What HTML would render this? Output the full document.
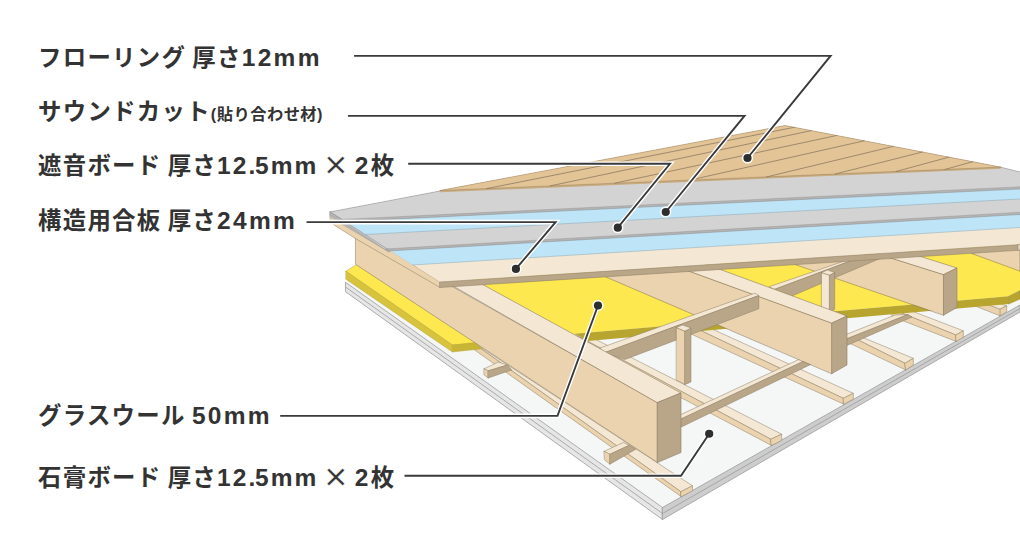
<!DOCTYPE html>
<html lang="ja">
<head>
<meta charset="utf-8">
<title>床構造</title>
<style>
html,body{margin:0;padding:0;background:#fff;}
body{width:1020px;height:540px;overflow:hidden;position:relative;font-family:"Liberation Sans","Noto Sans CJK JP",sans-serif;}
svg{position:absolute;left:0;top:0;display:block;}
.lbl{position:absolute;left:38px;margin:0;white-space:nowrap;color:#333;font-weight:bold;font-size:23.4px;line-height:30px;letter-spacing:1.3px;word-spacing:-1.6px;}
.lbl small{font-size:16.3px;letter-spacing:0.45px;}
.lbl i{font-style:normal;font-weight:normal;font-size:39.5px;line-height:0;position:relative;top:3.9px;letter-spacing:0;margin:0 1.2px 0 -0.4px;-webkit-text-stroke:0.4px #fff;}
.lbl b.d{letter-spacing:2.1px;}
.lbl u{text-decoration:none;letter-spacing:-0.4px;}
.lbl b{font-weight:bold;font-size:24.5px;letter-spacing:2.3px;}
</style>
</head>
<body>
<svg width="1020" height="540" viewBox="0 0 1020 540">
<g stroke-linejoin="round" stroke-linecap="round">
<polygon points="345.8,282.5 662.5,507.5 1020.0,305.0 1020.0,240.0 400.0,240.0" fill="#f5f7f7"/>
<polygon points="345.8,282.5 662.5,507.5 662.5,519.5 345.8,291.9" fill="#e6e6e6" stroke="#9c9c9c" stroke-width="0.8"/>
<polygon points="662.5,507.5 1020.0,305.0 1020.0,312.0 662.5,519.5" fill="#cdcdcd" stroke="#9c9c9c" stroke-width="0.8"/>
<polyline points="345.8,287.2 662.5,513.5 1020.0,308.5" fill="none" stroke="#9c9c9c" stroke-width="0.8"/>
<polygon points="470.0,340.3 692.5,485.8 680.8,491.7 470.0,340.8" fill="#f4e8d5" stroke="#8d7c63" stroke-width="0.5"/>
<polygon points="470.0,340.8 680.8,491.7 681.3,496.7 470.0,346.7" fill="#ead3ae" stroke="#8d7c63" stroke-width="0.5"/>
<polygon points="680.8,491.7 692.5,485.8 692.5,490.8 681.3,496.7" fill="#ead3ae" stroke="#8d7c63" stroke-width="0.5"/>
<polygon points="580.0,331.4 781.7,434.2 770.8,439.2 575.0,334.5" fill="#f4e8d5" stroke="#8d7c63" stroke-width="0.5"/>
<polygon points="575.0,334.5 770.8,439.2 771.5,445.5 571.0,339.5" fill="#ead3ae" stroke="#8d7c63" stroke-width="0.5"/>
<polygon points="770.8,439.2 781.7,434.2 781.7,440.5 771.5,445.5" fill="#ead3ae" stroke="#8d7c63" stroke-width="0.5"/>
<polygon points="690.0,319.0 853.3,393.3 843.3,398.3 680.0,320.7" fill="#f4e8d5" stroke="#8d7c63" stroke-width="0.5"/>
<polygon points="680.0,320.7 843.3,398.3 843.7,404.2 672.0,325.3" fill="#ead3ae" stroke="#8d7c63" stroke-width="0.5"/>
<polygon points="843.3,398.3 853.3,393.3 853.3,399.2 843.7,404.2" fill="#ead3ae" stroke="#8d7c63" stroke-width="0.5"/>
<polygon points="856.7,335.0 913.3,358.3 905.0,363.3 848.0,335.0" fill="#f4e8d5" stroke="#8d7c63" stroke-width="0.5"/>
<polygon points="848.0,335.0 905.0,363.3 905.8,370.0 847.0,342.0" fill="#ead3ae" stroke="#8d7c63" stroke-width="0.5"/>
<polygon points="905.0,363.3 913.3,358.3 913.3,365.0 905.8,370.0" fill="#ead3ae" stroke="#8d7c63" stroke-width="0.5"/>
<polygon points="900.0,306.5 963.3,330.8 955.8,335.0 893.0,309.5" fill="#f4e8d5" stroke="#8d7c63" stroke-width="0.5"/>
<polygon points="893.0,309.5 955.8,335.0 956.3,341.5 892.0,316.5" fill="#ead3ae" stroke="#8d7c63" stroke-width="0.5"/>
<polygon points="955.8,335.0 963.3,330.8 963.3,337.3 956.3,341.5" fill="#ead3ae" stroke="#8d7c63" stroke-width="0.5"/>
<polygon points="975.0,300.0 990.0,300.0 1006.7,305.8 1000.0,309.2" fill="#f4e8d5" stroke="#8d7c63" stroke-width="0.5"/>
<polygon points="1000.0,309.2 1006.7,305.8 1006.7,311.7 1000.0,315.8" fill="#ead3ae" stroke="#8d7c63" stroke-width="0.5"/>
<polygon points="975.0,300.0 1000.0,309.2 1000.0,315.8 975.0,306.0" fill="#ead3ae" stroke="#8d7c63" stroke-width="0.5"/>
<polygon points="484.2,368.7 498.3,362.0 507.5,365.0 488.3,370.8" fill="#f4e8d5" stroke="#8d7c63" stroke-width="0.5"/>
<polygon points="484.2,368.7 488.3,370.8 488.3,378.0 484.2,375.0" fill="#ead3ae" stroke="#8d7c63" stroke-width="0.5"/>
<polygon points="488.3,370.8 507.5,365.0 511.7,370.0 488.3,378.0" fill="#b9a688" stroke="#8d7c63" stroke-width="0.5"/>
<polygon points="604.2,451.3 623.3,442.5 629.2,445.3 610.0,454.2" fill="#f4e8d5" stroke="#8d7c63" stroke-width="0.5"/>
<polygon points="604.2,451.3 610.0,454.2 610.0,464.2 604.7,460.0" fill="#ead3ae" stroke="#8d7c63" stroke-width="0.5"/>
<polygon points="610.0,454.2 629.2,445.3 635.8,449.2 610.0,464.2" fill="#b9a688" stroke="#8d7c63" stroke-width="0.5"/>
<polygon points="670.0,419.6 815.0,351.9 815.0,355.9 670.0,424.2" fill="#f4e8d5" stroke="#8d7c63" stroke-width="0.5"/>
<polygon points="670.0,424.2 815.0,355.9 815.0,362.4 670.0,432.5" fill="#b9a688" stroke="#8d7c63" stroke-width="0.5"/>
<polygon points="840.0,337.0 895.0,315.0 908.0,314.5 840.0,341.5" fill="#f4e8d5" stroke="#8d7c63" stroke-width="0.5"/>
<polygon points="840.0,341.5 908.0,314.5 912.0,317.0 840.0,348.5" fill="#b9a688" stroke="#8d7c63" stroke-width="0.5"/>
<polygon points="346.0,271.2 357.5,264.0 480.0,343.0 452.5,345.0" fill="#fde850" stroke="#b7a52f" stroke-width="0.5"/>
<polygon points="346.0,271.2 452.5,345.0 452.5,352.0 346.0,279.3" fill="#d8c33c" stroke="#b7a52f" stroke-width="0.5"/>
<polygon points="452.5,345.0 475.0,342.5 482.5,348.8 452.5,352.0" fill="#c9b535" stroke="#b7a52f" stroke-width="0.4"/>
<polygon points="426.0,257.0 1020.0,240.0 1020.0,290.0 1008.8,296.2 575.0,333.8 578.0,338.5" fill="#fde850"/>
<polygon points="575.0,333.8 1008.8,296.2 1008.8,304.0 588.0,341.0" fill="#b7a52f"/>
<polygon points="1008.8,296.2 1020.0,290.5 1020.0,299.0 1008.8,304.0" fill="#b7a52f" stroke="#8f8126" stroke-width="0.4"/>
<polygon points="971.7,253.3 1020.0,245.0 1020.0,270.8" fill="#ead3ae" stroke="#8d7c63" stroke-width="0.6"/>
<polygon points="750.0,249.0 870.0,251.3 943.8,274.5 943.8,315.0" fill="#ead3ae" stroke="#8d7c63" stroke-width="0.6"/>
<polygon points="870.0,251.3 900.0,250.0 957.0,268.0 943.8,274.5" fill="#f4e8d5" stroke="#8d7c63" stroke-width="0.6"/>
<polygon points="943.8,274.5 957.0,268.0 957.0,307.5 943.8,315.0" fill="#b9a688" stroke="#8d7c63" stroke-width="0.6"/>
<polygon points="769.2,286.7 860.0,255.7 866.0,255.1 775.0,289.2" fill="#f4e8d5" stroke="#8d7c63" stroke-width="0.5"/>
<polygon points="775.0,289.2 880.0,249.8 880.0,258.5 792.5,295.8" fill="#b9a688" stroke="#8d7c63" stroke-width="0.5"/>
<polygon points="821.7,272.5 829.7,275.0 829.7,311.5 821.7,308.5" fill="#f4e8d5" stroke="#8d7c63" stroke-width="0.5"/>
<polygon points="829.7,275.0 834.7,272.5 834.7,309.5 829.7,311.5" fill="#b9a688" stroke="#8d7c63" stroke-width="0.5"/>
<polygon points="821.7,272.5 827.5,270.0 834.7,272.5 829.7,275.0" fill="#f4e8d5" stroke="#8d7c63" stroke-width="0.5"/>
<polygon points="560.0,257.2 650.0,256.8 832.0,323.0 832.0,373.5" fill="#ead3ae" stroke="#8d7c63" stroke-width="0.6"/>
<polygon points="650.0,256.8 680.0,254.7 847.0,316.0 832.0,323.0" fill="#f4e8d5" stroke="#8d7c63" stroke-width="0.6"/>
<polygon points="832.0,323.0 847.0,316.0 847.0,365.0 832.0,373.5" fill="#b9a688" stroke="#8d7c63" stroke-width="0.6"/>
<polygon points="600.0,348.0 755.0,293.2 758.8,295.5 605.0,352.5" fill="#f4e8d5" stroke="#8d7c63" stroke-width="0.5"/>
<polygon points="605.0,352.5 758.8,295.5 758.8,308.8 625.0,359.5" fill="#b9a688" stroke="#8d7c63" stroke-width="0.5"/>
<polygon points="676.5,327.5 685.0,331.0 685.0,384.5 676.5,380.0" fill="#ead3ae" stroke="#8d7c63" stroke-width="0.5"/>
<polygon points="685.0,331.0 691.0,328.0 691.0,382.0 685.0,384.5" fill="#b9a688" stroke="#8d7c63" stroke-width="0.5"/>
<polygon points="676.5,327.5 682.5,325.0 691.0,328.0 685.0,331.0" fill="#f4e8d5" stroke="#8d7c63" stroke-width="0.5"/>
<polygon points="355.8,232.0 657.5,402.5 657.5,462.5 355.8,264.5" fill="#ead3ae" stroke="#8d7c63" stroke-width="0.6"/>
<polygon points="400.0,255.5 430.0,255.7 681.0,393.0 657.5,402.5" fill="#f4e8d5" stroke="#8d7c63" stroke-width="0.6"/>
<polygon points="657.5,402.5 681.0,393.0 681.0,452.5 657.5,462.5" fill="#b9a688" stroke="#8d7c63" stroke-width="0.6"/>
<polygon points="330.2,212.0 440.0,282.0 440.0,287.5 427.2,280.0 355.4,238.5 333.9,224.9 330.2,219.0" fill="#ead3ae" stroke="#8d7c63" stroke-width="0.5"/>
<polygon points="330.2,211.9 388.7,249.6 389.5,252.3 345.0,226.0 330.2,216.8" fill="#bdbdbd" stroke="#8a8a8a" stroke-width="0.4"/>
<polyline points="330.2,214.3 387.0,250.8" fill="none" stroke="#8a8a8a" stroke-width="0.4"/>
<polygon points="330.2,211.9 440.0,282.0 1020.0,244.6 1020.0,182.0" fill="#f4e8d5"/>
<polygon points="440.0,282.0 1020.0,244.6 1020.0,250.2 440.0,287.5" fill="#b9a688" stroke="#8d7c63" stroke-width="0.5"/>
<polygon points="1018.3,244.7 1020.0,244.2 1020.0,249.8 1018.3,250.3" fill="#f4e8d5" stroke="#8d7c63" stroke-width="0.4"/>
<polygon points="330.2,211.9 412.5,265.0 1020.0,227.5 1020.0,182.0" fill="#bee4f7"/>
<polyline points="412.5,265.0 1020.0,227.5" fill="none" stroke="#8aa6b3" stroke-width="0.5"/>
<polygon points="330.2,211.9 387.5,251.0 1020.0,214.5 1020.0,182.0" fill="#b4b4b4"/>
<polygon points="330.2,211.9 385.0,249.0 1020.0,212.3 1020.0,182.0" fill="#d3d3d3"/>
<polyline points="387.5,251.0 1020.0,214.5" fill="none" stroke="#8a8a8a" stroke-width="0.5"/>
<polyline points="385.0,249.0 1020.0,212.3" fill="none" stroke="#8a8a8a" stroke-width="0.4"/>
<polygon points="330.2,211.9 366.0,234.5 1020.0,199.0 1020.0,182.0" fill="#bee4f7"/>
<polyline points="366.0,234.5 1020.0,199.0" fill="none" stroke="#8aa6b3" stroke-width="0.5"/>
<polygon points="330.2,211.9 330.2,214.0 345.2,221.4 1020.0,189.0 1020.0,172.0 1000.0,167.0 440.0,191.0" fill="#b4b4b4"/>
<polygon points="330.2,211.9 343.0,219.4 1020.0,186.8 1020.0,172.0 1000.0,167.0 440.0,191.0" fill="#d3d3d3"/>
<polyline points="345.2,221.4 1020.0,189.0" fill="none" stroke="#8a8a8a" stroke-width="0.5"/>
<polyline points="343.0,219.4 1020.0,186.8" fill="none" stroke="#8a8a8a" stroke-width="0.4"/>
<polyline points="330.2,211.9 440.0,191.0" fill="none" stroke="#8a8a8a" stroke-width="0.5"/>
<polyline points="1000.0,167.0 1020.0,172.0" fill="none" stroke="#8a8a8a" stroke-width="0.5"/>
<polyline points="330.2,211.9 388.0,249.5" fill="none" stroke="#8a8a8a" stroke-width="0.6"/>
<polygon points="440.0,190.5 785.0,125.5 1000.6,167.1 1000.6,168.8 440.0,192.3" fill="#c9ab7e"/>
<polygon points="440.0,190.5 785.0,125.5 1000.6,167.1" fill="#e3c497"/>
<polyline points="486.7,188.6 794.2,127.3" fill="none" stroke="#6f6150" stroke-width="0.6"/>
<polyline points="550.2,185.9 811.4,130.6" fill="none" stroke="#6f6150" stroke-width="0.6"/>
<polyline points="614.7,183.2 836.6,135.5" fill="none" stroke="#6f6150" stroke-width="0.6"/>
<polyline points="690.0,180.1 864.3,140.8" fill="none" stroke="#6f6150" stroke-width="0.6"/>
<polyline points="766.7,176.9 893.4,146.4" fill="none" stroke="#6f6150" stroke-width="0.6"/>
<polyline points="835.2,174.0 922.5,152.0" fill="none" stroke="#6f6150" stroke-width="0.6"/>
<polyline points="896.0,171.5 949.0,157.1" fill="none" stroke="#6f6150" stroke-width="0.6"/>
<polyline points="945.0,169.4 972.8,161.7" fill="none" stroke="#6f6150" stroke-width="0.6"/>
<polyline points="440.0,190.5 785.0,125.5 1000.6,167.1" fill="none" stroke="#9c8462" stroke-width="0.5"/>
<polyline points="440.0,190.5 1000.6,167.1" fill="none" stroke="#8d7757" stroke-width="0.4"/>
</g>
<polyline points="354.1,55.9 830.6,55.9 747.5,158.0" fill="none" stroke="#fff" stroke-width="4.6" stroke-linejoin="miter"/>
<circle cx="747.5" cy="158" r="5.6" fill="#fff"/>
<polyline points="354.1,55.9 830.6,55.9 747.5,158.0" fill="none" stroke="#3a3a3a" stroke-width="1.9" stroke-linejoin="miter"/>
<circle cx="747.5" cy="158" r="4.1" fill="#2e2e2e"/>
<polyline points="347.9,115.9 744.5,115.9 665.8,212.0" fill="none" stroke="#fff" stroke-width="4.6" stroke-linejoin="miter"/>
<circle cx="665.75" cy="212" r="5.6" fill="#fff"/>
<polyline points="347.9,115.9 744.5,115.9 665.8,212.0" fill="none" stroke="#3a3a3a" stroke-width="1.9" stroke-linejoin="miter"/>
<circle cx="665.75" cy="212" r="4.1" fill="#2e2e2e"/>
<polyline points="408.2,163.8 670.0,163.8 617.8,227.7" fill="none" stroke="#fff" stroke-width="4.6" stroke-linejoin="miter"/>
<circle cx="617.8" cy="227.7" r="5.6" fill="#fff"/>
<polyline points="408.2,163.8 670.0,163.8 617.8,227.7" fill="none" stroke="#3a3a3a" stroke-width="1.9" stroke-linejoin="miter"/>
<circle cx="617.8" cy="227.7" r="4.1" fill="#2e2e2e"/>
<polyline points="306.5,222.1 555.6,222.1 515.9,268.9" fill="none" stroke="#fff" stroke-width="4.6" stroke-linejoin="miter"/>
<circle cx="515.9" cy="268.9" r="5.6" fill="#fff"/>
<polyline points="306.5,222.1 555.6,222.1 515.9,268.9" fill="none" stroke="#3a3a3a" stroke-width="1.9" stroke-linejoin="miter"/>
<circle cx="515.9" cy="268.9" r="4.1" fill="#2e2e2e"/>
<polyline points="280.2,415.9 557.5,415.9 598.0,305.5" fill="none" stroke="#fff" stroke-width="4.6" stroke-linejoin="miter"/>
<circle cx="598" cy="305.5" r="5.6" fill="#fff"/>
<polyline points="280.2,415.9 557.5,415.9 598.0,305.5" fill="none" stroke="#3a3a3a" stroke-width="1.9" stroke-linejoin="miter"/>
<circle cx="598" cy="305.5" r="4.1" fill="#2e2e2e"/>
<polyline points="404.5,475.7 681.0,475.7 709.2,433.8" fill="none" stroke="#fff" stroke-width="4.6" stroke-linejoin="miter"/>
<circle cx="709.2" cy="433.75" r="5.6" fill="#fff"/>
<polyline points="404.5,475.7 681.0,475.7 709.2,433.8" fill="none" stroke="#3a3a3a" stroke-width="1.9" stroke-linejoin="miter"/>
<circle cx="709.2" cy="433.75" r="4.1" fill="#2e2e2e"/>
</svg>
<p class="lbl" style="top:43px">フローリング 厚さ<b>12mm</b></p>
<p class="lbl" style="top:97px">サウンドカット<small>(貼り合わせ材)</small></p>
<p class="lbl" style="top:151px">遮音ボード 厚さ<b class="d">12<u>.</u>5mm</b> <i>×</i> <b>2</b>枚</p>
<p class="lbl" style="top:206px">構造用合板 厚さ<b>24mm</b></p>
<p class="lbl" style="top:400.5px">グラスウール <b>50mm</b></p>
<p class="lbl" style="top:463.3px">石膏ボード 厚さ<b class="d">12<u>.</u>5mm</b> <i>×</i> <b>2</b>枚</p>
</body>
</html>
